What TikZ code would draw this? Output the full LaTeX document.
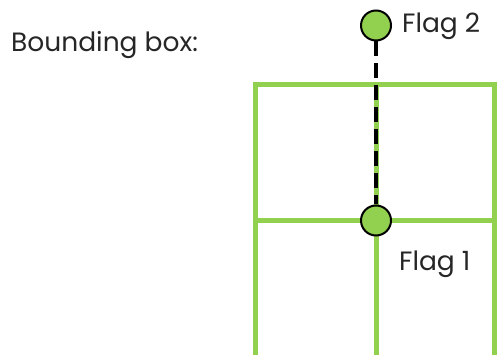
\documentclass[tikz,border=0pt]{standalone}
\usepackage{fontspec}
\setmainfont{Poppins}
\definecolor{boxgreen}{HTML}{92D050}
\begin{document}
\begin{tikzpicture}[x=1pt,y=-1pt,
  gridline/.style={draw=boxgreen,line width=5pt},
  flag/.style={circle,draw=black,fill=boxgreen,line width=2pt,minimum size=30pt,inner sep=0pt},
  label/.style={anchor=base west,font=\fontsize{26.5}{30}\selectfont,text=black!85,inner sep=0pt},
  link/.style={draw=black,line width=4.5pt,dash pattern=on 15pt off 7pt}]
\useasboundingbox (0,0) rectangle (497,355);
\clip (0,0) rectangle (497,355);
\fill[white] (0,0) rectangle (497,355);
% bounding box grid
\draw[gridline] (255.5,380) -- (255.5,85) -- (494,85) -- (494,380);
\draw[gridline] (255.5,220.5) -- (494,220.5);
\draw[gridline] (376,85) -- (376,380);
% flags
\node[flag] (f1) at (376,220.5) {};
\node[flag] (f2) at (376,25.5) {};
\draw[link] (f2.south) -- (f1.north);
% labels
\node[label] (bb) at (11,52) {Bounding box:};
\node[label] (l2) at (402,33) {Flag 2};
\node[label] (l1) at (399,270) {Flag 1};
\end{tikzpicture}
\end{document}
